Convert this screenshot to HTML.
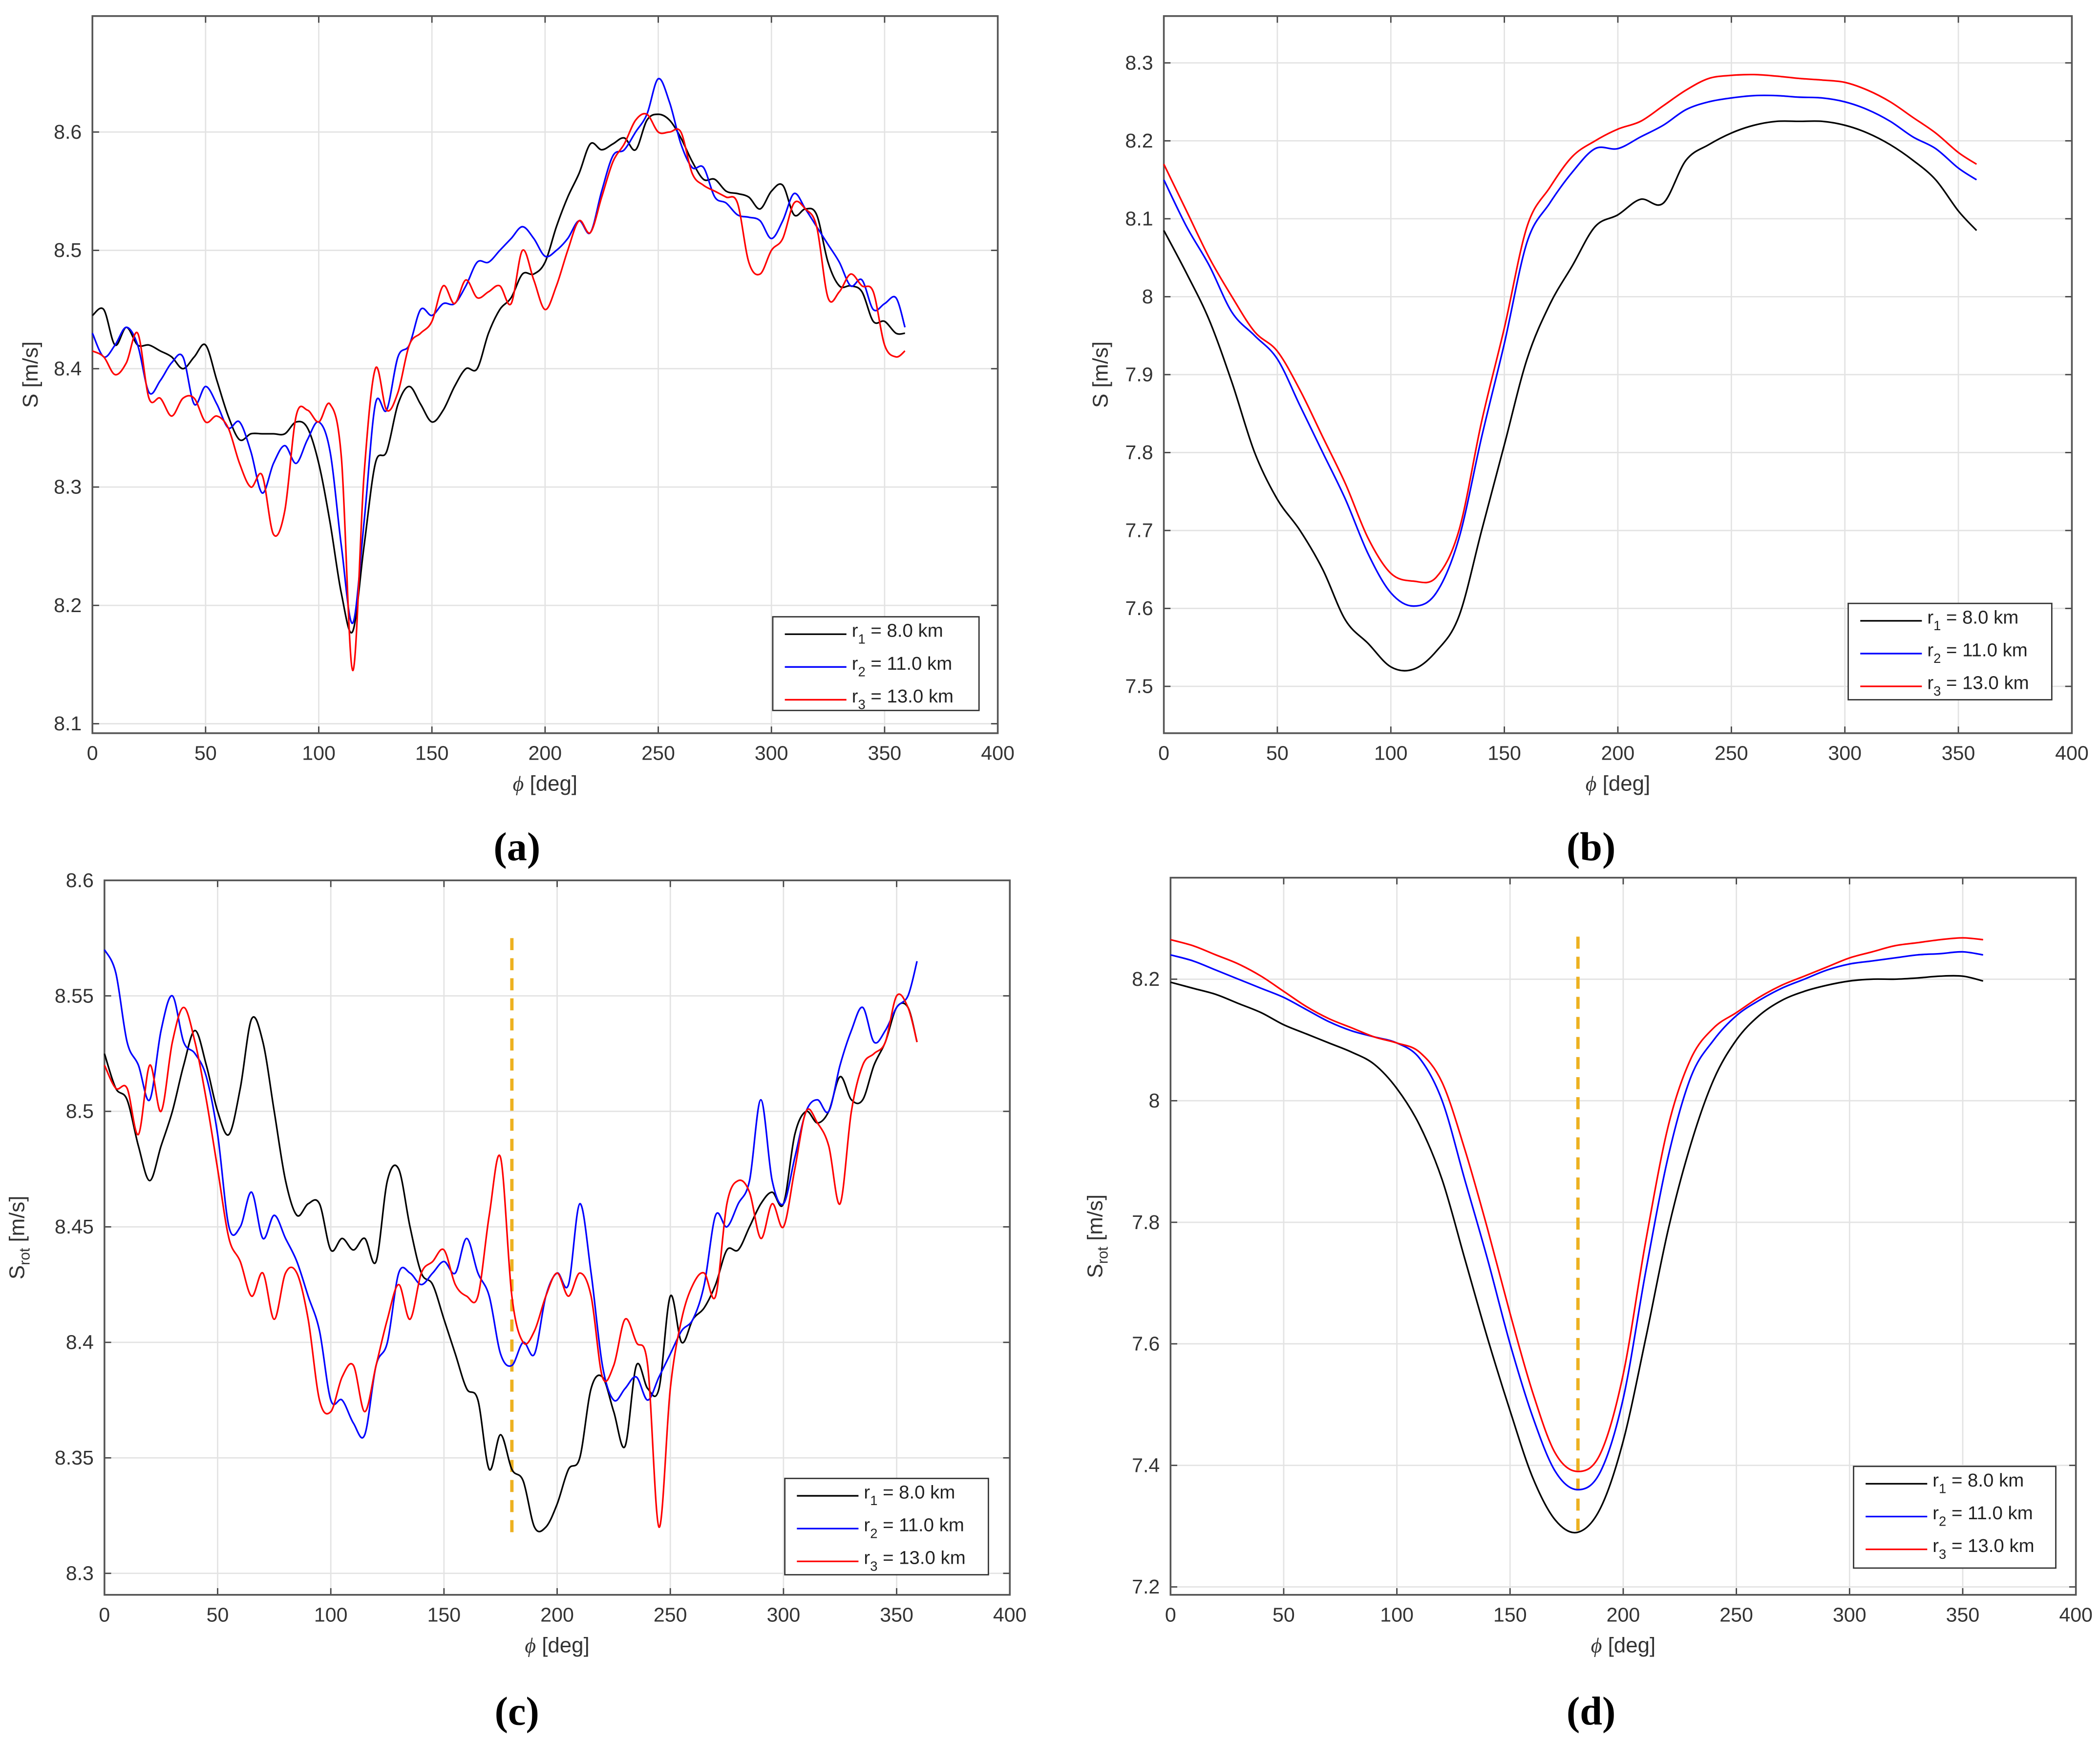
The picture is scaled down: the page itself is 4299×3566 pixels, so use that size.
<!DOCTYPE html>
<html><head><meta charset="utf-8"><style>
html,body{margin:0;padding:0;background:#fff;}
svg{display:block;}
</style></head><body>
<svg id="fig" width="4299" height="3566" viewBox="0 0 1568 1302" preserveAspectRatio="none" xmlns="http://www.w3.org/2000/svg" font-family="'Liberation Sans', 'DejaVu Sans', sans-serif">
<text x="386" y="643" font-family="'Liberation Serif',serif" font-weight="bold" font-size="30" text-anchor="middle">(a)</text>
<text x="1188" y="643" font-family="'Liberation Serif',serif" font-weight="bold" font-size="30" text-anchor="middle">(b)</text>
<text x="386" y="1289" font-family="'Liberation Serif',serif" font-weight="bold" font-size="30" text-anchor="middle">(c)</text>
<text x="1188" y="1289" font-family="'Liberation Serif',serif" font-weight="bold" font-size="30" text-anchor="middle">(d)</text>
</svg>
<script>
const phi5 = Array.from({length:73},(_,i)=>i*5);
const phi10 = Array.from({length:37},(_,i)=>i*10);
const xTicks = [0,50,100,150,200,250,300,350,400];
const legendLabels = ["8.0 km","11.0 km","13.0 km"];
const colors = ["#000000","#0000ff","#ff0000"];

const aBlack=[8.445,8.45,8.42,8.435,8.42,8.42,8.415,8.41,8.40,8.41,8.42,8.39,8.36,8.34,8.345,8.345,8.345,8.345,8.355,8.35,8.32,8.27,8.21,8.178,8.25,8.32,8.33,8.37,8.385,8.37,8.355,8.365,8.385,8.40,8.40,8.43,8.45,8.46,8.48,8.48,8.49,8.52,8.545,8.565,8.59,8.585,8.59,8.595,8.585,8.61,8.615,8.61,8.595,8.575,8.56,8.56,8.55,8.548,8.545,8.535,8.55,8.555,8.53,8.535,8.53,8.49,8.47,8.47,8.465,8.44,8.44,8.43,8.43];
const aBlue=[8.43,8.41,8.42,8.435,8.42,8.38,8.39,8.405,8.41,8.37,8.385,8.37,8.35,8.355,8.33,8.295,8.32,8.335,8.32,8.34,8.355,8.33,8.25,8.185,8.27,8.37,8.365,8.41,8.42,8.45,8.445,8.455,8.455,8.47,8.49,8.49,8.50,8.51,8.52,8.51,8.495,8.50,8.51,8.525,8.515,8.55,8.58,8.585,8.60,8.615,8.645,8.625,8.59,8.57,8.57,8.545,8.54,8.53,8.528,8.525,8.51,8.525,8.548,8.535,8.52,8.505,8.49,8.47,8.475,8.45,8.455,8.46,8.435];
const aRed=[8.415,8.41,8.395,8.405,8.43,8.375,8.375,8.36,8.375,8.375,8.355,8.36,8.35,8.32,8.30,8.31,8.26,8.28,8.36,8.365,8.355,8.37,8.325,8.145,8.31,8.40,8.365,8.38,8.42,8.43,8.44,8.47,8.455,8.475,8.46,8.465,8.47,8.455,8.50,8.475,8.45,8.47,8.50,8.525,8.515,8.545,8.575,8.59,8.61,8.615,8.60,8.60,8.60,8.565,8.555,8.55,8.545,8.54,8.49,8.48,8.50,8.51,8.54,8.535,8.52,8.46,8.465,8.48,8.47,8.465,8.42,8.41,8.415];

const bBlack=[8.085,8.03,7.97,7.89,7.80,7.74,7.70,7.65,7.585,7.555,7.525,7.522,7.545,7.59,7.70,7.81,7.92,7.99,8.04,8.09,8.105,8.125,8.12,8.175,8.195,8.21,8.22,8.225,8.225,8.225,8.22,8.21,8.195,8.175,8.15,8.11,8.085];
const bBlue=[8.15,8.09,8.04,7.98,7.95,7.92,7.86,7.80,7.74,7.67,7.62,7.603,7.62,7.69,7.82,7.94,8.07,8.12,8.16,8.19,8.19,8.205,8.22,8.24,8.25,8.255,8.258,8.258,8.256,8.255,8.25,8.24,8.225,8.205,8.19,8.165,8.15];
const bRed=[8.17,8.11,8.05,8.00,7.955,7.93,7.88,7.82,7.76,7.69,7.645,7.635,7.64,7.70,7.84,7.96,8.09,8.14,8.18,8.20,8.215,8.225,8.245,8.265,8.28,8.284,8.285,8.283,8.28,8.278,8.275,8.265,8.25,8.23,8.21,8.185,8.17];

const cBlack=[8.525,8.51,8.505,8.485,8.47,8.485,8.50,8.52,8.535,8.52,8.50,8.49,8.51,8.54,8.53,8.50,8.47,8.455,8.46,8.46,8.44,8.445,8.44,8.445,8.435,8.47,8.475,8.45,8.43,8.425,8.41,8.395,8.38,8.375,8.345,8.36,8.345,8.34,8.32,8.32,8.33,8.345,8.35,8.38,8.385,8.37,8.355,8.39,8.38,8.38,8.42,8.40,8.41,8.415,8.425,8.44,8.44,8.45,8.46,8.465,8.46,8.49,8.50,8.495,8.50,8.515,8.505,8.505,8.52,8.53,8.545,8.545,8.53];
const cBlue=[8.57,8.56,8.53,8.52,8.505,8.535,8.55,8.53,8.525,8.515,8.49,8.45,8.45,8.465,8.445,8.455,8.445,8.435,8.42,8.405,8.375,8.375,8.365,8.36,8.39,8.40,8.43,8.43,8.425,8.43,8.435,8.43,8.445,8.43,8.42,8.395,8.39,8.40,8.395,8.42,8.43,8.425,8.46,8.43,8.39,8.375,8.38,8.385,8.375,8.385,8.395,8.405,8.41,8.425,8.455,8.45,8.46,8.47,8.505,8.47,8.46,8.48,8.50,8.505,8.50,8.52,8.535,8.545,8.53,8.535,8.545,8.55,8.565];
const cRed=[8.52,8.51,8.51,8.49,8.52,8.50,8.53,8.545,8.53,8.505,8.475,8.445,8.435,8.42,8.43,8.41,8.43,8.43,8.41,8.375,8.37,8.385,8.39,8.37,8.39,8.41,8.425,8.41,8.43,8.435,8.44,8.425,8.42,8.42,8.455,8.48,8.42,8.40,8.405,8.42,8.43,8.42,8.43,8.42,8.385,8.39,8.41,8.40,8.39,8.32,8.38,8.41,8.425,8.43,8.42,8.46,8.47,8.465,8.445,8.46,8.45,8.475,8.50,8.495,8.485,8.46,8.50,8.52,8.525,8.53,8.55,8.545,8.53];

const dBlack=[8.195,8.185,8.175,8.16,8.145,8.125,8.11,8.095,8.08,8.06,8.02,7.96,7.87,7.74,7.61,7.49,7.38,7.31,7.29,7.33,7.44,7.61,7.79,7.93,8.035,8.10,8.14,8.165,8.18,8.19,8.197,8.20,8.20,8.202,8.205,8.205,8.197];
const dBlue=[8.24,8.23,8.215,8.20,8.185,8.17,8.15,8.13,8.115,8.105,8.095,8.07,8.0,7.87,7.74,7.60,7.48,7.39,7.36,7.39,7.51,7.72,7.91,8.04,8.10,8.14,8.165,8.185,8.20,8.215,8.225,8.23,8.235,8.24,8.242,8.245,8.24];
const dRed=[8.265,8.255,8.24,8.225,8.205,8.18,8.155,8.135,8.12,8.105,8.095,8.08,8.03,7.92,7.79,7.65,7.52,7.42,7.39,7.42,7.55,7.77,7.96,8.07,8.12,8.145,8.17,8.19,8.205,8.22,8.235,8.245,8.255,8.26,8.265,8.268,8.265];

const aYTicks=[8.1,8.2,8.3,8.4,8.5,8.6];
const bYTicks=[7.5,7.6,7.7,7.8,7.9,8,8.1,8.2,8.3];
const cYTicks=[8.3,8.35,8.4,8.45,8.5,8.55,8.6];
const dYTicks=[7.2,7.4,7.6,7.8,8,8.2];

const NS="http://www.w3.org/2000/svg";
const svg=document.getElementById('fig');
function mk(tag,attrs,parent){const e=document.createElementNS(NS,tag);for(const k in attrs)e.setAttribute(k,attrs[k]);(parent||svg).appendChild(e);return e;}
function smoothPath(pts){let d=`M${pts[0][0].toFixed(2)},${pts[0][1].toFixed(2)}`;for(let i=0;i<pts.length-1;i++){const p0=pts[Math.max(0,i-1)],p1=pts[i],p2=pts[i+1],p3=pts[Math.min(pts.length-1,i+2)];const c1=[p1[0]+(p2[0]-p0[0])/6,p1[1]+(p2[1]-p0[1])/6],c2=[p2[0]-(p3[0]-p1[0])/6,p2[1]-(p3[1]-p1[1])/6];d+=`C${c1[0].toFixed(2)},${c1[1].toFixed(2)} ${c2[0].toFixed(2)},${c2[1].toFixed(2)} ${p2[0].toFixed(2)},${p2[1].toFixed(2)}`;}return d;}

function panel(cfg){
  const g=mk('g',{});
  
  
  const X=v=>cfg.x0+(v-0)/400*(cfg.x1-cfg.x0);
  const Y=v=>cfg.y1-(v-cfg.ymin)/(cfg.ymax-cfg.ymin)*(cfg.y1-cfg.y0);
  mk('rect',{x:cfg.x0,y:cfg.y0,width:cfg.x1-cfg.x0,height:cfg.y1-cfg.y0,fill:'#fff'},g);
  xTicks.forEach(t=>{const x=X(t);
    const l=mk('line',{x1:x,x2:x,y1:cfg.y0,y2:cfg.y1,stroke:'#e3e3e3','stroke-width':1},g);
    
    mk('line',{x1:x,x2:x,y1:cfg.y1,y2:cfg.y1-5,stroke:'#444','stroke-width':1},g);
    mk('line',{x1:x,x2:x,y1:cfg.y0,y2:cfg.y0+5,stroke:'#444','stroke-width':1},g);
    const tx=mk('text',{x:x,y:cfg.y1+20,'font-size':15,fill:'#333','text-anchor':'middle'},g);tx.textContent=t;
    });
  cfg.yt.forEach(t=>{const y=Y(t);
    const l=mk('line',{x1:cfg.x0,x2:cfg.x1,y1:y,y2:y,stroke:'#e3e3e3','stroke-width':1},g);
    
    mk('line',{x1:cfg.x0,x2:cfg.x0+5,y1:y,y2:y,stroke:'#444','stroke-width':1},g);
    mk('line',{x1:cfg.x1,x2:cfg.x1-5,y1:y,y2:y,stroke:'#444','stroke-width':1},g);
    const tx=mk('text',{x:cfg.x0-8,y:y+5,'font-size':15,fill:'#333','text-anchor':'end'},g);tx.textContent=String(t);
    });
  mk('rect',{x:cfg.x0,y:cfg.y0,width:cfg.x1-cfg.x0,height:cfg.y1-cfg.y0,fill:'none',stroke:'#555','stroke-width':1.3},g);
  const xl=mk('text',{x:(cfg.x0+cfg.x1)/2,y:cfg.y1+43,'font-size':16,fill:'#333','text-anchor':'middle'},g);
  xl.innerHTML='<tspan font-family="\'Liberation Serif\',serif" font-style="italic">ϕ</tspan> [deg]';
  
  const yc=(cfg.y0+cfg.y1)/2;
  const yl=mk('text',{x:cfg.ylx,y:yc,'font-size':16,fill:'#333','text-anchor':'middle',transform:`rotate(-90 ${cfg.ylx} ${yc})`},g);
  yl.innerHTML=cfg.rot?'S<tspan font-size="11" dy="4">rot</tspan><tspan dy="-4"> [m/s]</tspan>':'S [m/s]';
  
  if(cfg.dash){const l=mk('line',{x1:X(180),x2:X(180),y1:Y(cfg.dash[0]),y2:Y(cfg.dash[1]),stroke:'#edb120','stroke-width':2.5,'stroke-dasharray':'9,6'},g);
    }
  cfg.series.forEach((s,i)=>{const pts=cfg.phi.map((p,j)=>[X(Math.min(p,cfg.pmax)),Y(s[j])]);
    const p=mk('path',{d:smoothPath(pts),fill:'none',stroke:colors[i],'stroke-width':1.2,'stroke-linejoin':'round'},g);
    });
  const [lx,ly,lw,lh]=cfg.leg;
  const lg=mk('g',{},g);
  
  mk('rect',{x:lx,y:ly,width:lw,height:lh,fill:'#fff',stroke:'#333','stroke-width':1},lg);
  legendLabels.forEach((lab,i)=>{const yy=ly+13+i*24.5;
    mk('line',{x1:lx+9,x2:lx+55,y1:yy,y2:yy,stroke:colors[i],'stroke-width':1.2},lg);
    const t=mk('text',{x:lx+59,y:yy+2,'font-size':14,fill:'#222'},lg);
    t.innerHTML=`r<tspan font-size="10" dy="5">${i+1}</tspan><tspan dy="-5"> = ${lab}</tspan>`;
    });
}
panel({name:'panel-a',x0:69,x1:745,y0:12,y1:548,ymin:8.092,ymax:8.698,yt:aYTicks,phi:phi5,pmax:359,series:[aBlack,aBlue,aRed],leg:[577,461,154,70],ylx:28});
panel({name:'panel-b',x0:869,x1:1547,y0:12,y1:548,ymin:7.4399,ymax:8.3601,yt:bYTicks,phi:phi10,pmax:358,series:[bBlack,bBlue,bRed],leg:[1380,451,152,72],ylx:827});
panel({name:'panel-c',x0:78,x1:754,y0:658,y1:1192,ymin:8.2907,ymax:8.6,yt:cYTicks,phi:phi5,pmax:359,series:[cBlack,cBlue,cRed],leg:[586,1105,152,72],ylx:18,rot:true,dash:[8.575,8.315]});
panel({name:'panel-d',x0:874,x1:1550,y0:656,y1:1192,ymin:7.187,ymax:8.367,yt:dYTicks,phi:phi10,pmax:359,series:[dBlack,dBlue,dRed],leg:[1384,1096,151,76],ylx:823,rot:true,dash:[8.27,7.28]});
</script>
</body></html>
